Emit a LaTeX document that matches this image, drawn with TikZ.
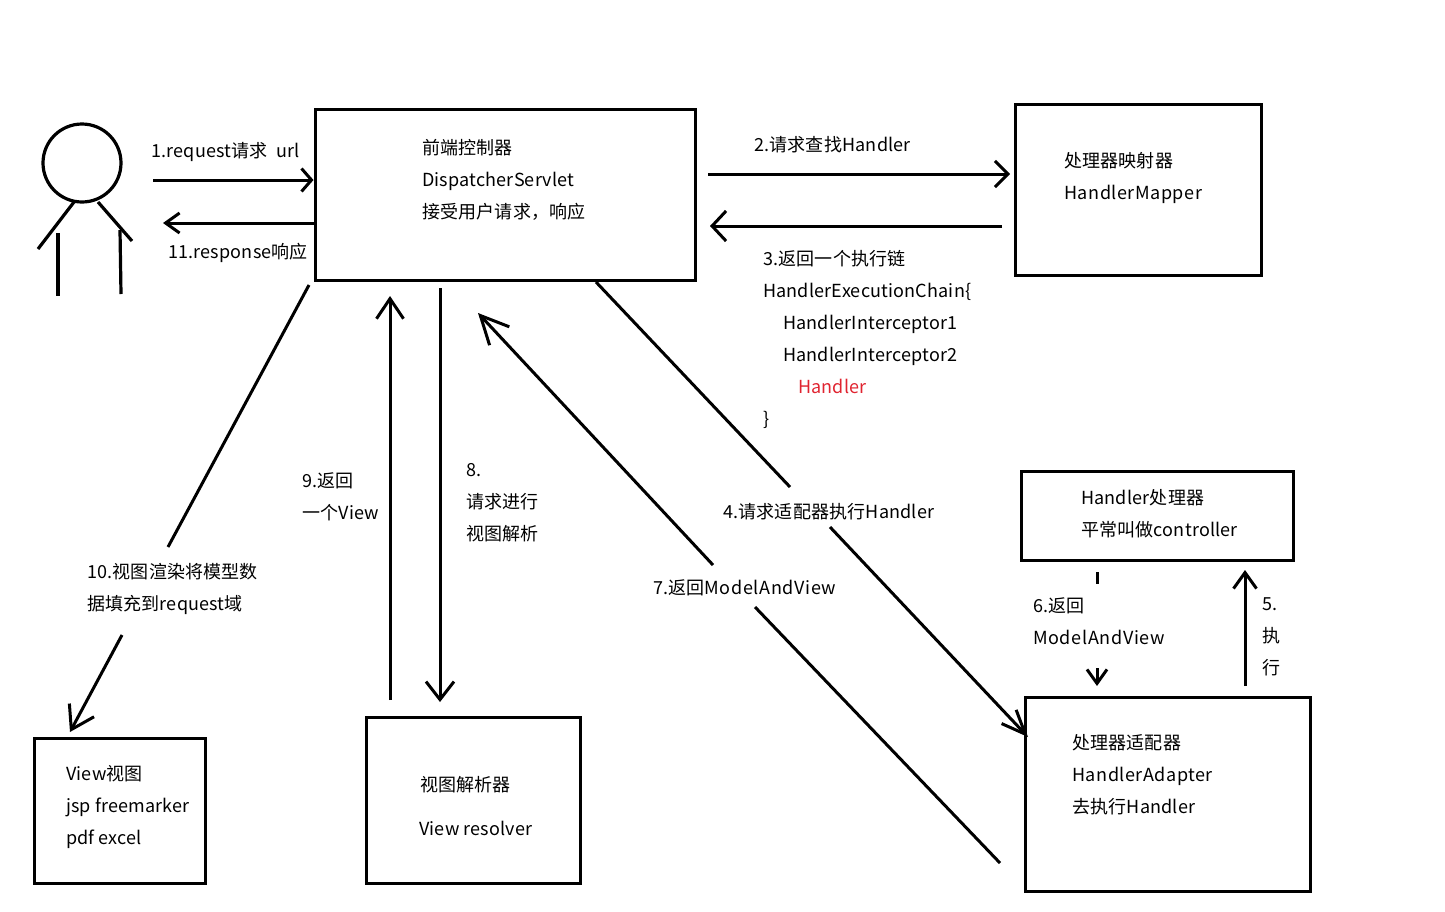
\documentclass[tikz,border=0pt]{standalone}
\usepackage{fontspec}
\setmainfont[LetterSpace=1]{Noto Sans CJK SC}
\usetikzlibrary{arrows.meta}
\definecolor{hlred}{RGB}{224,36,48}
% capitals run wider in a few class names
\newcommand{\wider}[2]{{\addfontfeature{LetterSpace=#1}#2}}
\tikzset{
  box/.style={draw, line width=3pt, inner sep=0pt},
  label/.style={anchor=west, align=left, inner sep=0pt, yshift=-1.5pt, font=\fontsize{18}{32}\selectfont},
  wire/.style={line width=3pt},
  arrow/.style 2 args={wire, -{Straight Barb[length=#1,width=#2,line width=3pt]}},
  limb/.style={line width=3.2pt}
}
\begin{document}
\begin{tikzpicture}[x=1pt, y=-1pt]
\useasboundingbox (0,0) rectangle (1445,911);
% boxes
\node[box, minimum width=380pt, minimum height=171pt] (front) at (505,195) {};
\node[box, minimum width=246pt, minimum height=171pt] (mapper) at (1138,189.5) {};
\node[box, minimum width=272pt, minimum height=89pt] (handler) at (1157,515.5) {};
\node[box, minimum width=285pt, minimum height=194pt] (adapter) at (1167.5,794) {};
\node[box, minimum width=171pt, minimum height=145pt] (view) at (119.5,810.5) {};
\node[box, minimum width=214pt, minimum height=166pt] (resolver) at (473,800) {};
% the user
\node[draw, limb, circle, minimum size=78pt, inner sep=0pt] (head) at (82,163) {};
\coordinate (armL) at (38,249);
\coordinate (armR) at (132,241);
\draw[limb] (74,202) -- (armL);
\draw[limb] (98,202) -- (armR);
\draw[limb] (58,233) -- (58,296);
\draw[limb] (120,230) -- (121,294);
% box texts
\node[label] (frontText) at (422,178.5) {前端控制器\\DispatcherServlet\\接受用户请求，响应};
\node[label] (mapperText) at (1064,176) {处理器映射器\\\wider{3}{HandlerMapper}};
\node[label] (handlerText) at (1081,512.5) {Handler处理器\\平常叫做controller};
\node[label] (adapterText) at (1072,773) {处理器适配器\\\wider{3}{HandlerAdapter}\\去执行Handler};
\node[label] (viewText) at (66,806) {View视图\\jsp freemarker\\pdf excel};
\node[label] (resolverA) at (420,783) {视图解析器};
\node[label] (resolverB) at (419,827) {View resolver};
% step labels
\node[label] (s1) at (151,150) {1.request请求 ~url};
\node[label] (s11) at (168,251) {11.response响应};
\node[label] (s2) at (754,143.5) {2.请求查找Handler};
\node[label] (s3) at (763,337.5) {3.返回一个执行链\\HandlerExecutionChain\{\\\hspace{20pt}HandlerInterceptor1\\\hspace{20pt}HandlerInterceptor2\\\hspace{35pt}\textcolor{hlred}{Handler}\\\}};
\node[label] (s4) at (723,510) {4.请求适配器执行Handler};
\node[label] (s5) at (1262,635) {5.\\执\\行};
\node[label] (s6) at (1033,620) {6.返回\\\wider{3.5}{ModelAndView}};
\node[label] (s7) at (653,586) {7.返回\wider{3.5}{ModelAndView}};
\node[label] (s8) at (466,501) {8.\\请求进行\\视图解析};
\node[label] (s9) at (302,495) {9.返回\\一个View};
\node[label] (s10) at (87,587) {10.视图渲染将模型数\\据填充到request域};
% free ends of the connectors
\coordinate (userOut) at (153,180);
\coordinate (userIn) at (163,223);
\coordinate (mapperOut) at (1002,226);
\coordinate (frontIn) at (710,226);
\coordinate (frontOut) at (708,174);
\coordinate (mapperIn) at (1010,174);
\coordinate (viewA) at (309,285);
\coordinate (viewB) at (168,547);
\coordinate (viewC) at (122,635);
\coordinate (viewD) at (70,732);
\coordinate (nineA) at (390,700);
\coordinate (nineB) at (390,296);
\coordinate (eightA) at (440,288);
\coordinate (eightB) at (440,702);
\coordinate (fourA) at (596,282);
\coordinate (fourB) at (790,487);
\coordinate (fourC) at (830,527);
\coordinate (fourD) at (1028,737);
\coordinate (sevenA) at (1000,863);
\coordinate (sevenB) at (755,607);
\coordinate (sevenC) at (713,565);
\coordinate (sevenD) at (478,313);
\coordinate (sixA) at (1097,572);
\coordinate (sixB) at (1097,584);
\coordinate (sixC) at (1097,668);
\coordinate (sixD) at (1097,686);
\coordinate (fiveA) at (1245,686);
\coordinate (fiveB) at (1245,570);
% connectors
\draw[arrow={10pt}{23pt}] (userOut) -- (front.west |- userOut);
\draw[arrow={14pt}{20pt}] (front.west |- userIn) -- (userIn);
\draw[arrow={13pt}{26pt}] (frontOut) -- (mapperIn);
\draw[arrow={14pt}{30pt}] (mapperOut) -- (frontIn);
\draw[wire] (viewA) -- (viewB);
\draw[arrow={22pt}{28pt}] (viewC) -- (viewD);
\draw[arrow={20pt}{27pt}] (nineA) -- (nineB);
\draw[arrow={18pt}{28pt}] (eightA) -- (eightB);
\draw[wire] (fourA) -- (fourB);
\draw[arrow={24pt}{20pt}] (fourC) -- (fourD);
\draw[wire] (sevenA) -- (sevenB);
\draw[arrow={28pt}{27pt}] (sevenC) -- (sevenD);
\draw[wire] (sixA) -- (sixB);
\draw[arrow={14pt}{20pt}] (sixC) -- (sixD);
\draw[arrow={16pt}{23pt}] (fiveA) -- (fiveB);
\end{tikzpicture}
\end{document}
